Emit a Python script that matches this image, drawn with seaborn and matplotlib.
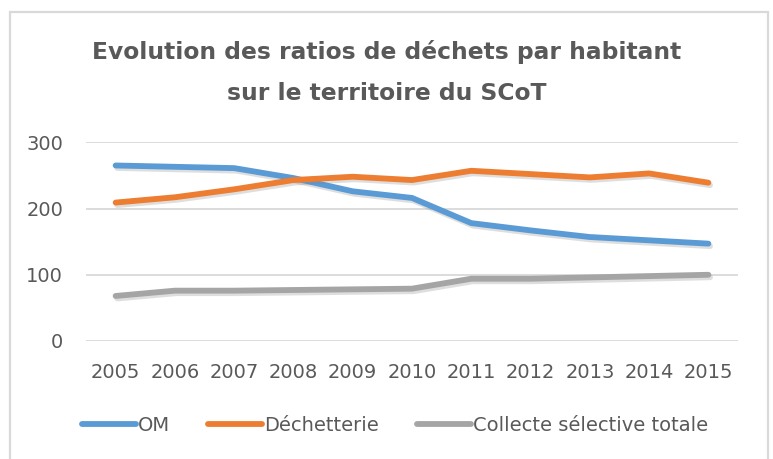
import matplotlib
matplotlib.use("Agg")
import matplotlib.pyplot as plt
import matplotlib.patheffects as pe
from matplotlib.lines import Line2D
from matplotlib.patches import Rectangle
import pandas as pd
import seaborn as sns

years = [2005, 2006, 2007, 2008, 2009, 2010, 2011, 2012, 2013, 2014, 2015]
om = [265, 263, 261, 246, 226, 216, 178, 167, 157, 152, 147]
decheterie = [209, 217, 229, 243, 248, 243, 257, 252, 247, 253, 239]
collecte = [68, 76, 76, 77, 78, 79, 94, 94, 96, 98, 100]
series_names = ["OM", "Déchetterie", "Collecte sélective totale"]
colors = ["#5B9BD5", "#ED7D31", "#A5A5A5"]
title = "Evolution des ratios de déchets par habitant\nsur le territoire du SCoT"
yticks = [0, 100, 200, 300]

df = pd.DataFrame({
    "Année": years * 3,
    "Ratio": om + decheterie + collecte,
    "Flux": [series_names[0]] * len(years)
    + [series_names[1]] * len(years)
    + [series_names[2]] * len(years),
})

sns.set_theme(style="white")
plt.rcParams["font.family"] = ["DejaVu Sans"]
text_color = "#595959"
grid_color = "#D9D9D9"

W, H = 773, 459
fig = plt.figure(figsize=(W / 100, H / 100), dpi=100)
ax = fig.add_axes([86 / W, 1 - 341 / H, (738 - 86) / W, (341 - 142.3) / H])

shadow = [pe.SimpleLineShadow(offset=(1.2, -1.8), shadow_color="#7f7f7f", alpha=0.25),
          pe.Normal()]
sns.lineplot(data=df, x="Année", y="Ratio", hue="Flux", palette=colors,
             hue_order=series_names, linewidth=4.2, legend=False, ax=ax,
             solid_capstyle="round", path_effects=shadow)

ax.set_xlim(years[0] - 0.5, years[-1] + 0.5)
ax.set_ylim(0, 300)
ax.set_xticks(years)
ax.set_xticklabels([str(y) for y in years])
ax.set_yticks(yticks)
ax.set_xlabel("")
ax.set_ylabel("")
ax.grid(axis="y", color=grid_color, linewidth=1.3)
ax.set_axisbelow(True)
for s in ax.spines.values():
    s.set_visible(False)
ax.tick_params(axis="both", length=0, labelsize=14, colors=text_color)
ax.tick_params(axis="y", pad=16.5)
ax.tick_params(axis="x", pad=15.5)

fig.text(0.5, 1 - 72 / H, title, ha="center", va="center", fontsize=16.8,
         fontweight="bold", color=text_color, linespacing=2.0)

handles = [Line2D([], [], color=c, linewidth=4.2, solid_capstyle="round")
           for c in colors]
fig.legend(handles, series_names, loc="center left",
           bbox_to_anchor=(82 / W, 1 - 425.7 / H), ncol=3, frameon=False,
           fontsize=14, handlelength=2.78, handletextpad=0.1,
           columnspacing=1.95, borderpad=0, borderaxespad=0,
           labelcolor=text_color)

fig.patches.append(Rectangle((10 / W, -0.05), (768 - 10) / W, 1.05 - 11.5 / H,
                             transform=fig.transFigure, fill=False,
                             edgecolor=grid_color, linewidth=1.6))

fig.savefig("out.png", dpi=100, facecolor="white")
